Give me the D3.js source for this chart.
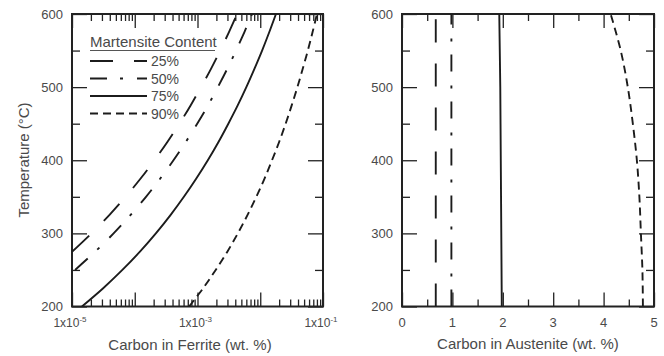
<!DOCTYPE html>
<html>
<head>
<meta charset="utf-8">
<script src="https://cdn.jsdelivr.net/npm/d3@7/dist/d3.min.js"></script>
<style>
  body { margin: 0; background: #fff; }
  text { font-family: "Liberation Sans", Arial, sans-serif; fill: #4a4a4a; }
</style>
</head>
<body>
<svg id="chart" width="664" height="356"></svg>
<script>
// Temperatures (°C) at which carbon contents are tabulated
const tempsFerrite = [200, 225, 250, 275, 300, 325, 350, 375, 400, 425, 450, 475, 500, 525, 550, 575, 600];
// Carbon in ferrite (wt.%) for each martensite content
const ferrite25 = [null, null, null, 1.01e-5, 2.05e-5, 3.93e-5, 7.14e-5, 1.24e-4, 2.06e-4, 3.31e-4, 5.15e-4, 7.76e-4, 1.14e-3, 1.64e-3, 2.30e-3, 3.16e-3, 4.27e-3];
const ferrite50 = [null, null, 1.12e-5, 2.34e-5, 4.60e-5, 8.53e-5, 1.51e-4, 2.55e-4, 4.14e-4, 6.50e-4, 9.89e-4, 1.47e-3, 2.11e-3, 2.98e-3, 4.11e-3, 5.57e-3, 7.41e-3];
const ferrite75 = [1.44e-5, 3.14e-5, 6.35e-5, 1.21e-4, 2.17e-4, 3.71e-4, 6.07e-4, 9.57e-4, 1.46e-3, 2.16e-3, 3.10e-3, 4.37e-3, 6.00e-3, 8.07e-3, 1.07e-2, 1.39e-2, 1.78e-2];
const ferrite90 = [7.35e-4, 1.23e-3, 1.95e-3, 2.99e-3, 4.39e-3, 6.25e-3, 8.65e-3, 1.17e-2, 1.54e-2, 2.00e-2, 2.54e-2, 3.17e-2, 3.91e-2, 4.75e-2, 5.73e-2, 6.81e-2, 8.02e-2];

const tempsAustenite = [200, 250, 300, 350, 400, 450, 500, 550, 600];
// Carbon in austenite (wt.%)
const austenite25 = [0.67, 0.67, 0.67, 0.67, 0.67, 0.67, 0.67, 0.67, 0.67];
const austenite50 = [0.98, 0.98, 0.98, 0.98, 0.98, 0.98, 0.98, 0.98, 0.98];
const austenite75 = [1.98, 1.975, 1.97, 1.965, 1.96, 1.955, 1.95, 1.94, 1.93];
const austenite90 = [4.78, 4.77, 4.74, 4.71, 4.66, 4.58, 4.48, 4.34, 4.14];

const seriesLabels = ["25%", "50%", "75%", "90%"];
const legendTitle = "Martensite Content";

const yMajorTicks = [200, 300, 400, 500, 600];
const yMinorTicks = [250, 350, 450, 550];
const ferriteMajorTicks = [1e-5, 1e-4, 1e-3, 1e-2, 1e-1];
const ferriteLabelTicks = [[1e-5, "-5"], [1e-3, "-3"], [1e-1, "-1"]];
const austeniteMajorTicks = [0, 1, 2, 3, 4, 5];
const austeniteMinorTicks = [0.5, 1.5, 2.5, 3.5, 4.5];

const dashes = ["23,21", "17,13,3,14", null, "8,5"];
const lineColor = "#1c1c1c";

const svg = d3.select("#chart");

const plotTop = 14, plotBottom = 306.5;
const y = d3.scaleLinear().domain([200, 600]).range([plotBottom, plotTop]);

const xF = d3.scaleLog().domain([1e-5, 1e-1]).range([72, 323]);
const xA = d3.scaleLinear().domain([0, 5]).range([402, 654]);

// Minor ticks for the log axis: 2..9 in each decade
const ferriteMinorTicks = [];
for (let e = -5; e < -1; e++) for (let m = 2; m <= 9; m++) ferriteMinorTicks.push(m * Math.pow(10, e));

function drawTicks(g, axisFn, scale, values, size, transform) {
  g.append("g")
    .attr("transform", transform)
    .call(axisFn(scale).tickValues(values).tickSize(size).tickFormat(""))
    .call(s => s.select(".domain").remove())
    .call(s => s.selectAll(".tick line").attr("stroke", "#222").attr("stroke-width", 1.3));
}

function panel(x, xMajor, xMinor) {
  const g = svg.append("g");
  const [x0, x1] = x.range();
  // ticks pointing inward on all four sides
  drawTicks(g, d3.axisBottom, x, xMajor, -14, `translate(0,${plotBottom})`);
  drawTicks(g, d3.axisBottom, x, xMinor, -7, `translate(0,${plotBottom})`);
  drawTicks(g, d3.axisTop, x, xMajor, -14, `translate(0,${plotTop})`);
  drawTicks(g, d3.axisTop, x, xMinor, -7, `translate(0,${plotTop})`);
  drawTicks(g, d3.axisLeft, y, yMajorTicks, -15, `translate(${x0},0)`);
  drawTicks(g, d3.axisLeft, y, yMinorTicks, -8, `translate(${x0},0)`);
  drawTicks(g, d3.axisRight, y, yMajorTicks, -15, `translate(${x1},0)`);
  drawTicks(g, d3.axisRight, y, yMinorTicks, -8, `translate(${x1},0)`);

  g.append("rect")
    .attr("x", x0).attr("y", plotTop)
    .attr("width", x1 - x0).attr("height", plotBottom - plotTop)
    .attr("fill", "none").attr("stroke", "#222").attr("stroke-width", 2);

  // y tick labels
  g.selectAll(".ylab").data(yMajorTicks).join("text")
    .attr("x", x0 - 9).attr("y", d => y(d)).attr("dy", "0.35em")
    .attr("text-anchor", "end").style("font-size", "13px")
    .text(d => d);
  return g;
}

function drawSeries(g, x, temps, series, clipId) {
  svg.append("clipPath").attr("id", clipId).append("rect")
    .attr("x", x.range()[0]).attr("y", plotTop)
    .attr("width", x.range()[1] - x.range()[0]).attr("height", plotBottom - plotTop);
  series.forEach((vals, i) => {
    const pts = temps.map((t, k) => [vals[k], t]);
    const line = d3.line()
      .defined(d => d[0] != null)
      .x(d => x(d[0])).y(d => y(d[1]))
      .curve(d3.curveCatmullRom);
    g.append("path")
      .attr("d", line(pts))
      .attr("clip-path", `url(#${clipId})`)
      .attr("fill", "none").attr("stroke", lineColor)
      .attr("stroke-width", 1.9)
      .attr("stroke-dasharray", dashes[i]);
  });
}

// Left panel: carbon in ferrite (log scale)
const left = panel(xF, ferriteMajorTicks, ferriteMinorTicks);
drawSeries(left, xF, tempsFerrite, [ferrite25, ferrite50, ferrite75, ferrite90], "clipF");

ferriteLabelTicks.forEach(([v, exp]) => {
  const t = left.append("text")
    .attr("x", xF(v) - 2).attr("y", 327)
    .attr("text-anchor", "middle").style("font-size", "12px");
  t.append("tspan").text("1x10");
  t.append("tspan").attr("dy", -5).style("font-size", "8px").text(exp);
});

left.append("text")
  .attr("x", 190).attr("y", 350)
  .attr("text-anchor", "middle").style("font-size", "15px")
  .text("Carbon in Ferrite (wt. %)");

svg.append("text")
  .attr("transform", "translate(29,160) rotate(-90)")
  .attr("text-anchor", "middle").style("font-size", "15px")
  .text("Temperature (°C)");

// Legend
const legend = left.append("g");
legend.append("text")
  .attr("x", 90).attr("y", 47)
  .style("font-size", "15px")
  .text(legendTitle);
legend.append("line")
  .attr("x1", 90).attr("x2", 215).attr("y1", 50.5).attr("y2", 50.5)
  .attr("stroke", "#555").attr("stroke-width", 1);
seriesLabels.forEach((lab, i) => {
  const ly = 61 + i * 17.5;
  legend.append("line")
    .attr("x1", 90).attr("x2", 147).attr("y1", ly).attr("y2", ly)
    .attr("stroke", lineColor).attr("stroke-width", 1.9)
    .attr("stroke-dasharray", dashes[i]);
  legend.append("text")
    .attr("x", 151).attr("y", ly).attr("dy", "0.36em")
    .style("font-size", "14px")
    .text(lab);
});

// Right panel: carbon in austenite (linear scale)
const right = panel(xA, austeniteMajorTicks, austeniteMinorTicks);
drawSeries(right, xA, tempsAustenite, [austenite25, austenite50, austenite75, austenite90], "clipA");

right.selectAll(".xlab").data(austeniteMajorTicks).join("text")
  .attr("x", d => xA(d)).attr("y", 327)
  .attr("text-anchor", "middle").style("font-size", "13px")
  .text(d => d);

right.append("text")
  .attr("x", 528).attr("y", 349)
  .attr("text-anchor", "middle").style("font-size", "15px")
  .text("Carbon in Austenite (wt. %)");
</script>
</body>
</html>
